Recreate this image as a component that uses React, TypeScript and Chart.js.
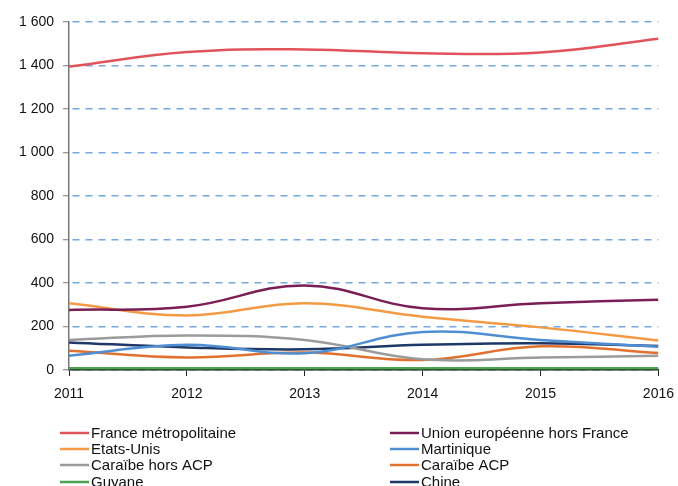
import React, { useEffect, useRef } from "react";
import { Chart, registerables } from "chart.js";

Chart.register(...registerables);

const years = [2011, 2012, 2013, 2014, 2015, 2016];
const yTicks = [0, 200, 400, 600, 800, 1000, 1200, 1400, 1600];

const franceMetro = [1395, 1462, 1474, 1456, 1460, 1523];
const unionEuropeenne = [276, 291, 389, 284, 307, 323];
const etatsUnis = [307, 251, 307, 245, 196, 136];
const martinique = [66, 116, 77, 175, 138, 107];
const caraibeHorsACP = [138, 159, 138, 49, 57, 66];
const caraibeACP = [89, 58, 80, 46, 109, 78];
const guyane = [8, 8, 8, 8, 8, 8];
const chine = [127, 104, 95, 116, 123, 110];

const seriesLabels = [
  "France métropolitaine",
  "Union européenne hors France",
  "Etats-Unis",
  "Martinique",
  "Caraïbe hors ACP",
  "Caraïbe ACP",
  "Guyane",
  "Chine",
];
const seriesValues = [
  franceMetro,
  unionEuropeenne,
  etatsUnis,
  martinique,
  caraibeHorsACP,
  caraibeACP,
  guyane,
  chine,
];
const seriesColors = [
  "#E0535A",
  "#7A1E55",
  "#F39A45",
  "#4F8ED2",
  "#9B9B9B",
  "#E0712F",
  "#4EA352",
  "#1E3868",
];

const FONT = "'Liberation Sans', Arial, Helvetica, sans-serif";

const fmt = (v: number) => String(v).replace(/\B(?=(\d{3})+(?!\d))/g, " ");

const legendPlugin = {
  id: "twoColLegend",
  afterDraw(chart: any) {
    const ctx = chart.ctx;
    const ds = chart.data.datasets;
    ctx.save();
    ctx.font = `15px ${FONT}`;
    ctx.textBaseline = "middle";
    ctx.textAlign = "left";
    const cols = [60, 390];
    const rows = [433, 449, 465, 482];
    ds.forEach((d: any, i: number) => {
      const col = i % 2;
      const row = Math.floor(i / 2);
      const x = cols[col];
      const y = rows[row];
      ctx.strokeStyle = d.borderColor;
      ctx.lineWidth = 2.5;
      ctx.beginPath();
      ctx.moveTo(x, y);
      ctx.lineTo(x + 29, y);
      ctx.stroke();
      ctx.fillStyle = "#111";
      ctx.fillText(d.label, x + 31, y + 1);
    });
    ctx.restore();
  },
};

export default function App() {
  const ref = useRef<HTMLCanvasElement | null>(null);
  useEffect(() => {
    if (!ref.current) return;
    const chart = new Chart(ref.current, {
      type: "line",
      data: {
        datasets: seriesLabels.map((label, i) => ({
          label,
          data: years.map((y, j) => ({ x: y, y: seriesValues[i][j] })),
          borderColor: seriesColors[i],
          backgroundColor: seriesColors[i],
          borderWidth: 2.5,
          pointRadius: 0,
          tension: 0.4,
          fill: false,
        })),
      },
      options: {
        animation: false,
        responsive: false,
        maintainAspectRatio: false,
        layout: { padding: { left: 0, right: 19, top: 22, bottom: 86 } },
        plugins: {
          legend: { display: false },
          tooltip: { enabled: false },
        },
        scales: {
          x: {
            type: "linear",
            min: 2011,
            max: 2016,
            afterFit: (s: any) => {
              s.height = 30;
            },
            afterBuildTicks: (s: any) => {
              s.ticks = years.map((v) => ({ value: v }));
            },
            ticks: {
              callback: (v: any) => String(v),
              color: "#111",
              font: { family: FONT, size: 14, lineHeight: 2 },
              padding: 4,
              maxRotation: 0,
            },
            grid: {
              drawOnChartArea: false,
              drawTicks: true,
              tickLength: 6,
              tickColor: "#222",
              tickWidth: 1,
            },
            border: { display: true, color: "#111", width: 1.5 },
          },
          y: {
            type: "linear",
            min: 0,
            max: 1600,
            afterFit: (s: any) => {
              s.width = 69;
            },
            afterBuildTicks: (s: any) => {
              s.ticks = yTicks.map((v) => ({ value: v }));
            },
            ticks: {
              callback: (v: any) => fmt(Number(v)),
              color: "#111",
              font: { family: FONT, size: 14 },
              padding: 9,
            },
            grid: {
              drawOnChartArea: true,
              drawTicks: true,
              tickLength: 6,
              color: "#74A8E0",
              lineWidth: 1.5,
              tickColor: "#777",
              tickWidth: 1,
              tickBorderDash: [],
            },
            border: { display: true, color: "#777", width: 1.5, dash: [7, 6], dashOffset: -3 },
          },
        },
      },
      plugins: [legendPlugin],
    } as any);
    return () => chart.destroy();
  }, []);
  return (
    <div style={{ position: "fixed", left: 0, top: 0, width: 678, height: 486, background: "#fff" }}>
      <canvas ref={ref} width={678} height={486} style={{ width: 678, height: 486 }} />
    </div>
  );
}
